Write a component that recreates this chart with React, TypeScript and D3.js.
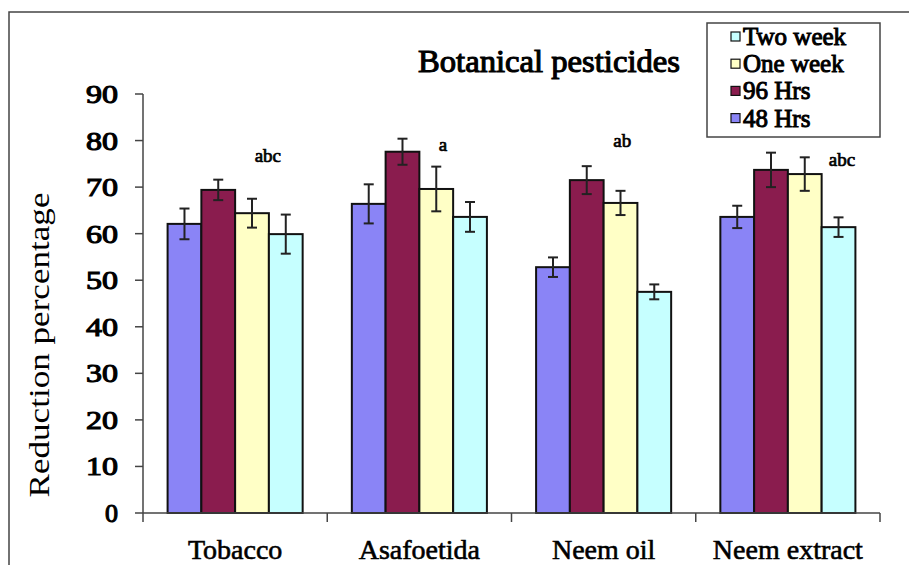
import React from "react";
import * as d3 from "d3";

const categories = ["Tobacco", "Asafoetida", "Neem oil", "Neem extract"];
const seriesNames = ["48 Hrs", "96 Hrs", "One week", "Two week"];
const hrs48 = [62.1, 66.4, 52.8, 63.6];
const hrs96 = [69.4, 77.6, 71.5, 73.7];
const oneWeek = [64.4, 69.6, 66.6, 72.8];
const twoWeek = [59.9, 63.6, 47.5, 61.4];
const err48 = [3.3, 4.2, 2.1, 2.4];
const err96 = [2.2, 2.8, 3.0, 3.7];
const errOne = [3.1, 4.8, 2.6, 3.6];
const errTwo = [4.2, 3.2, 1.6, 2.1];
const yTicks = [0, 10, 20, 30, 40, 50, 60, 70, 80, 90];
const annotText = ["abc", "a", "ab", "abc"];
const annotValue = [75.4, 77.7, 78.6, 74.5];
const annotSlot = [2.97, 2.7, 2.55, 3.6];

const colors = ["#8A84F6", "#8A1C4E", "#FFFFC6", "#C6FFFF"];

const serif = "Liberation Serif, Times New Roman, serif";

function BoldText(props: any) {
  const { sw = 0.9, children, ...rest } = props;
  return (
    <text fontFamily={serif} fill="#000" stroke="#000" strokeWidth={sw} {...rest}>
      {children}
    </text>
  );
}

export default function App() {
  const W = 909;
  const H = 565;
  const left = 143;
  const right = 880;

  const values = [hrs48, hrs96, oneWeek, twoWeek];
  const errs = [err48, err96, errOne, errTwo];

  const x0 = d3.scaleBand<string>().domain(categories).range([left, right]).padding(0);
  const groupW = x0.bandwidth() * 0.733;
  const groupOff = (x0.bandwidth() - groupW) / 2;
  const x1 = d3.scaleBand<string>().domain(seriesNames).range([0, groupW]).padding(0);
  const y = d3.scaleLinear().domain([0, 90]).range([513, 94]);
  const bw = x1.bandwidth();

  const legendOrder = [3, 2, 1, 0];

  return (
    <svg
      width={W}
      height={H}
      style={{ position: "absolute", left: 0, top: 0, background: "#fff" }}
      fontFamily={serif}
    >
      <rect x={0} y={0} width={W} height={H} fill="#fff" />
      <rect x={9} y={12} width={940} height={620} fill="none" stroke="#444" strokeWidth={1.5} />

      <BoldText
        x={549}
        y={72}
        textAnchor="middle"
        fontSize={32}
        sw={1.1}
        textLength={262}
        lengthAdjust="spacingAndGlyphs"
      >
        Botanical pesticides
      </BoldText>

      {categories.map((c, ci) => (
        <g key={c} transform={`translate(${(x0(c) as number) + groupOff},0)`}>
          {seriesNames.map((s, si) => {
            const v = values[si][ci];
            const e = errs[si][ci];
            const bx = x1(s) as number;
            const cx = bx + bw / 2;
            return (
              <g key={s}>
                <rect
                  x={bx}
                  y={y(v)}
                  width={bw}
                  height={y(0) - y(v)}
                  fill={colors[si]}
                  stroke="#111"
                  strokeWidth={2}
                />
                <line x1={cx} x2={cx} y1={y(v + e)} y2={y(v - e)} stroke="#222" strokeWidth={2} />
                <line x1={cx - 5} x2={cx + 5} y1={y(v + e)} y2={y(v + e)} stroke="#222" strokeWidth={2} />
                <line x1={cx - 5} x2={cx + 5} y1={y(v - e)} y2={y(v - e)} stroke="#222" strokeWidth={2} />
              </g>
            );
          })}
          <BoldText
            x={annotSlot[ci] * bw}
            y={y(annotValue[ci])}
            textAnchor="middle"
            fontSize={19}
            sw={0.7}
          >
            {annotText[ci]}
          </BoldText>
        </g>
      ))}

      <line x1={left} x2={left} y1={y(90)} y2={y(0)} stroke="#444" strokeWidth={1.5} />
      {yTicks.map((t) => (
        <g key={t}>
          <line x1={left - 8} x2={left} y1={y(t)} y2={y(t)} stroke="#444" strokeWidth={1.5} />
          <BoldText
            x={118}
            y={y(t) + 9}
            textAnchor="end"
            fontSize={26}
            sw={1.1}
            textLength={String(t).length > 1 ? 32 : undefined}
            lengthAdjust="spacingAndGlyphs"
          >
            {t}
          </BoldText>
        </g>
      ))}

      <line x1={left} x2={right} y1={y(0)} y2={y(0)} stroke="#444" strokeWidth={1.5} />
      {[...categories.map((c) => x0(c) as number), right].map((tx, i) => (
        <line key={i} x1={tx} x2={tx} y1={y(0)} y2={y(0) + 9} stroke="#444" strokeWidth={1.5} />
      ))}
      {categories.map((c) => (
        <BoldText
          key={c}
          x={(x0(c) as number) + x0.bandwidth() / 2}
          y={559}
          textAnchor="middle"
          fontSize={28}
          sw={0.6}
        >
          {c}
        </BoldText>
      ))}

      <text
        transform="translate(49,345) rotate(-90)"
        textAnchor="middle"
        fontSize={30}
        textLength={305}
        lengthAdjust="spacingAndGlyphs"
        fill="#000"
      >
        Reduction percentage
      </text>

      <rect x={707} y={23} width={173} height={114} fill="#fff" stroke="#444" strokeWidth={1.5} />
      {legendOrder.map((si, i) => {
        const base = 45 + i * 27.2;
        return (
          <g key={si}>
            <rect x={731} y={base - 13} width={9} height={9} fill={colors[si]} stroke="#111" strokeWidth={1.2} />
            <BoldText x={743} y={base} fontSize={25} sw={1}>
              {seriesNames[si]}
            </BoldText>
          </g>
        );
      })}
    </svg>
  );
}
